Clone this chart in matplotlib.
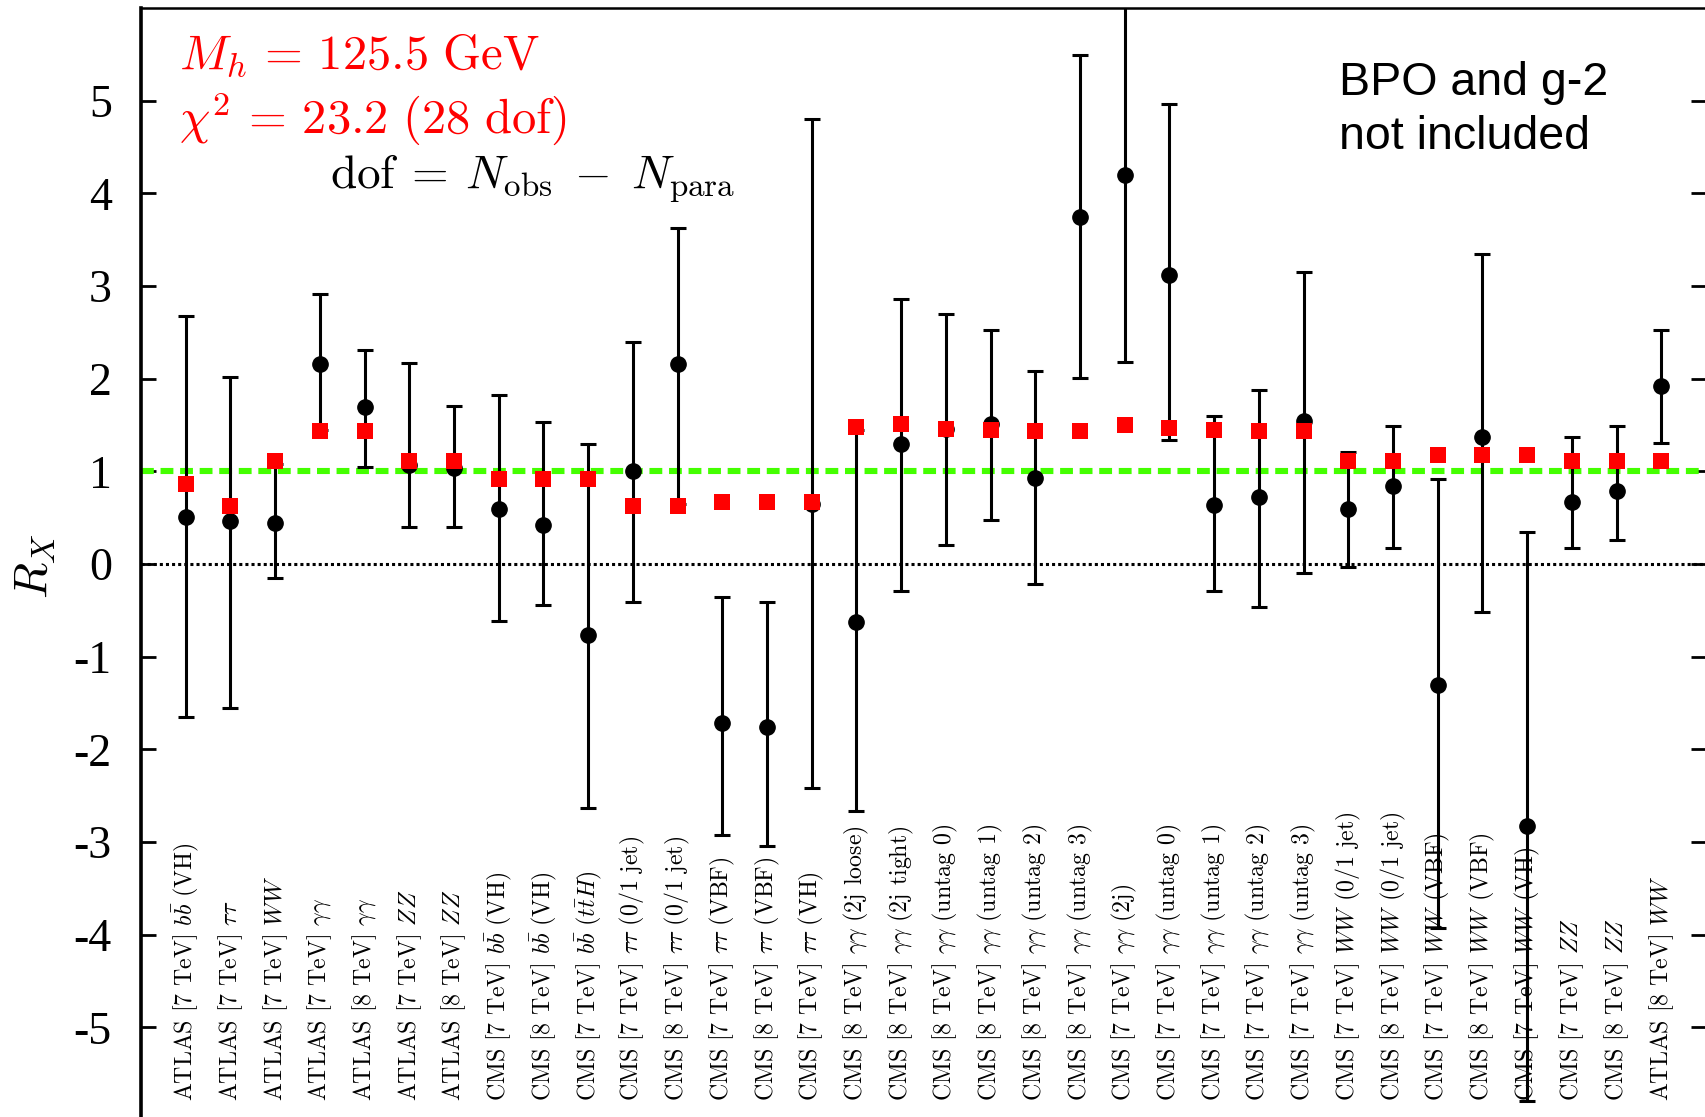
import matplotlib
matplotlib.use("Agg")
import matplotlib.pyplot as plt
import numpy as np

plt.rcParams['mathtext.fontset'] = 'cm'
plt.rcParams['font.family'] = ['Liberation Serif', 'DejaVu Serif']

categories = [
    r"ATLAS [7 TeV] $b\bar{b}$ (VH)",
    r"ATLAS [7 TeV] $\tau\tau$",
    r"ATLAS [7 TeV] $WW$",
    r"ATLAS [7 TeV] $\gamma\gamma$",
    r"ATLAS [8 TeV] $\gamma\gamma$",
    r"ATLAS [7 TeV] $ZZ$",
    r"ATLAS [8 TeV] $ZZ$",
    r"CMS [7 TeV] $b\bar{b}$ (VH)",
    r"CMS [8 TeV] $b\bar{b}$ (VH)",
    r"CMS [7 TeV] $b\bar{b}$ ($t\bar{t}H$)",
    r"CMS [7 TeV] $\tau\tau$ (0/1 jet)",
    r"CMS [8 TeV] $\tau\tau$ (0/1 jet)",
    r"CMS [7 TeV] $\tau\tau$ (VBF)",
    r"CMS [8 TeV] $\tau\tau$ (VBF)",
    r"CMS [7 TeV] $\tau\tau$ (VH)",
    r"CMS [8 TeV] $\gamma\gamma$ (2j loose)",
    r"CMS [8 TeV] $\gamma\gamma$ (2j tight)",
    r"CMS [8 TeV] $\gamma\gamma$ (untag 0)",
    r"CMS [8 TeV] $\gamma\gamma$ (untag 1)",
    r"CMS [8 TeV] $\gamma\gamma$ (untag 2)",
    r"CMS [8 TeV] $\gamma\gamma$ (untag 3)",
    r"CMS [7 TeV] $\gamma\gamma$ (2j)",
    r"CMS [7 TeV] $\gamma\gamma$ (untag 0)",
    r"CMS [7 TeV] $\gamma\gamma$ (untag 1)",
    r"CMS [7 TeV] $\gamma\gamma$ (untag 2)",
    r"CMS [7 TeV] $\gamma\gamma$ (untag 3)",
    r"CMS [7 TeV] $WW$ (0/1 jet)",
    r"CMS [8 TeV] $WW$ (0/1 jet)",
    r"CMS [7 TeV] $WW$ (VBF)",
    r"CMS [8 TeV] $WW$ (VBF)",
    r"CMS [7 TeV] $WW$ (VH)",
    r"CMS [7 TeV] $ZZ$",
    r"CMS [8 TeV] $ZZ$",
    r"ATLAS [8 TeV] $WW$",
]

obs = [0.51, 0.46, 0.44, 2.16, 1.69, 1.07, 1.04, 0.59, 0.42, -0.77,
       1.00, 2.16, -1.72, -1.76, 0.65, -0.63, 1.29, 1.46, 1.51, 0.93,
       3.74, 4.20, 3.12, 0.64, 0.72, 1.54, 0.59, 0.84, -1.31, 1.37,
       -2.83, 0.67, 0.79, 1.92]
obs_hi = [2.68, 2.02, 1.08, 2.91, 2.31, 2.17, 1.71, 1.82, 1.53, 1.29,
          2.40, 3.63, -0.36, -0.41, 4.80, 1.45, 2.86, 2.70, 2.53, 2.08,
          5.49, 6.50, 4.96, 1.60, 1.88, 3.15, 1.21, 1.49, 0.92, 3.35,
          0.34, 1.37, 1.49, 2.53]
obs_lo = [-1.65, -1.55, -0.15, 1.45, 1.05, 0.40, 0.40, -0.61, -0.44, -2.63,
          -0.41, 0.65, -2.92, -3.04, -2.42, -2.67, -0.29, 0.21, 0.47, -0.22,
          2.01, 2.18, 1.34, -0.29, -0.46, -0.10, -0.03, 0.17, -3.93, -0.52,
          -5.79, 0.17, 0.26, 1.31]
fit = [0.86, 0.63, 1.11, 1.44, 1.44, 1.11, 1.11, 0.92, 0.92, 0.92,
       0.63, 0.63, 0.67, 0.67, 0.67, 1.48, 1.51, 1.46, 1.45, 1.44,
       1.44, 1.50, 1.47, 1.45, 1.44, 1.44, 1.11, 1.11, 1.18, 1.18,
       1.18, 1.11, 1.11, 1.11]

yticks = [-5, -4, -3, -2, -1, 0, 1, 2, 3, 4, 5]
ytick_labels = ['-5', '-4', '-3', '-2', '-1', '0', '1', '2', '3', '4', '5']

W, H = 1706, 1117
fig = plt.figure(figsize=(W / 100, H / 100), dpi=100)
ax = fig.add_axes([141 / W, -3 / H, 1565 / W, 1112 / H])

x = np.arange(1, len(categories) + 1)
obs_a = np.array(obs)
yerr = np.vstack([obs_a - np.array(obs_lo), np.array(obs_hi) - obs_a])

ax.axhline(0, color='black', lw=2.2, linestyle=(0, (1.0, 1.0)), zorder=1)
ax.axhline(1, color='#44ff00', lw=4.4, linestyle=(0, (2.1, 1.1)), zorder=2)

ax.errorbar(x, obs, yerr=yerr, fmt='o', color='black', ecolor='black',
            elinewidth=2.2, capsize=5.6, capthick=2.2, markersize=11,
            zorder=3)
ax.plot(x, fit, 's', color='#ff0000', markersize=11.5, zorder=4,
        markeredgewidth=0)

ax.set_xlim(0, 35)
ax.set_ylim(-6, 6)
ax.set_xticks([])
ax.set_yticks(yticks)
ax.set_yticklabels(ytick_labels, fontsize=33, fontfamily='Liberation Serif')
ax.tick_params(axis='y', which='both', direction='in', length=10.8, width=2.0,
               left=True, right=True, pad=21)

ax.spines['left'].set_linewidth(2.6)
ax.spines['top'].set_linewidth(1.8)
ax.spines['right'].set_visible(False)
ax.spines['bottom'].set_visible(False)

for xi, lab in zip(x, categories):
    ax.text(xi, -5.80, lab, rotation=90, ha='center', va='bottom',
            fontsize=17.2, fontfamily='cmr10', zorder=5)

ax.text(0.85, 5.35, r"$M_h \,=\, 125.5\ \mathrm{GeV}$", color='#ff0000',
        fontsize=35, va='baseline', ha='left')
ax.text(0.85, 4.65, r"$\chi^2 \,=\, 23.2\ (28\ \mathrm{dof})$", color='#ff0000',
        fontsize=35, va='baseline', ha='left')
ax.text(4.23, 4.06,
        r"$\mathrm{dof} \:=\: N_{\mathrm{obs}} \;-\; N_{\mathrm{para}}$",
        color='black', fontsize=34, va='baseline', ha='left')

ax.text(26.8, 5.06, "BPO and g-2", fontfamily='Liberation Sans',
        fontsize=33.5, va='baseline', ha='left')
ax.text(26.8, 4.48, "not included", fontfamily='Liberation Sans',
        fontsize=33.5, va='baseline', ha='left')

fig.text(35 / W, 1 - 566 / H, r"$R_X$", fontsize=34, rotation=90,
         ha='center', va='center')

fig.savefig('out.png', dpi=100)
